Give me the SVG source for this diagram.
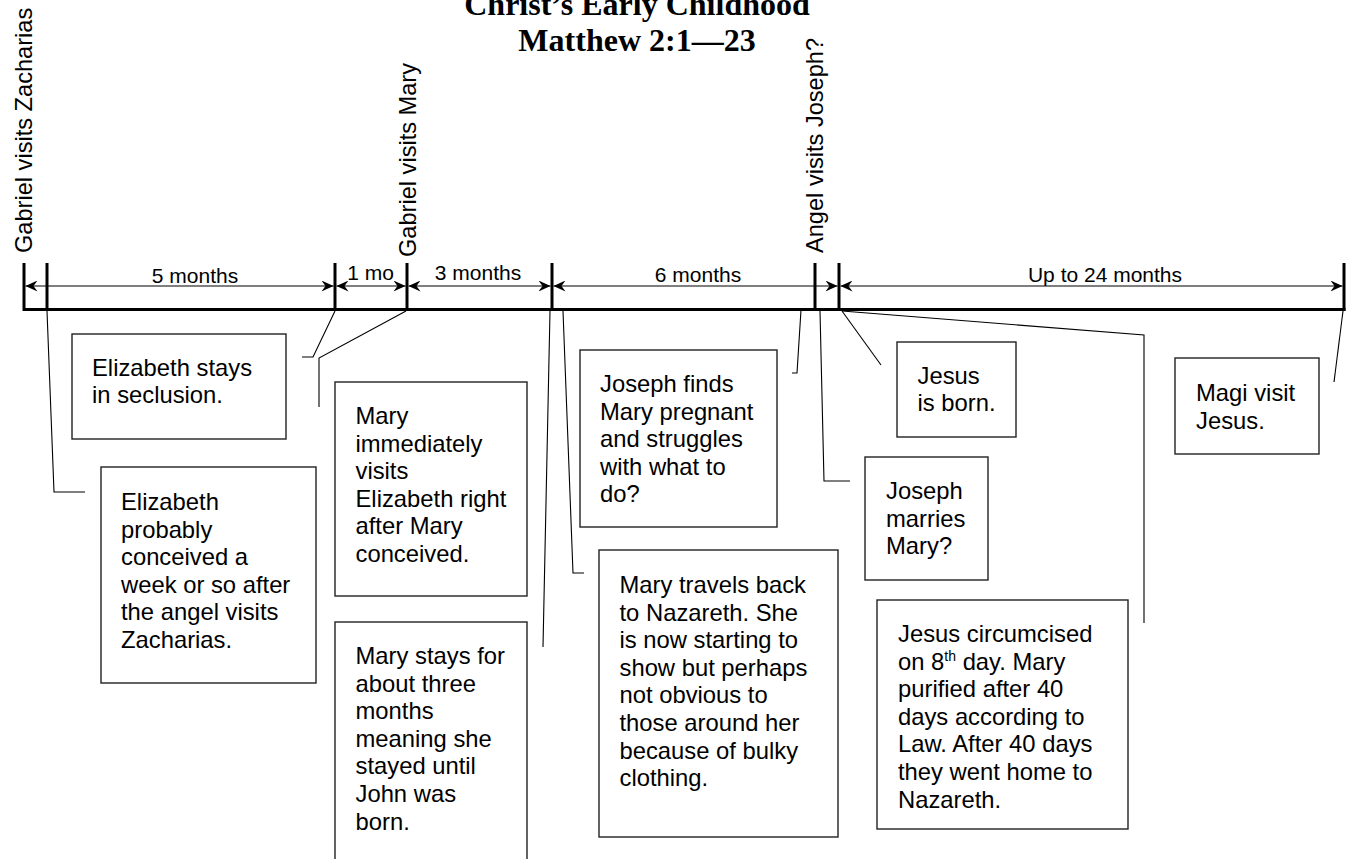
<svg xmlns="http://www.w3.org/2000/svg" width="1347" height="859" viewBox="0 0 1347 859">
<style>
.title{font-family:"Liberation Serif","Times New Roman",serif;font-weight:bold;font-size:32px;fill:#000;text-anchor:middle}
.lbl{font-family:"Liberation Sans",Arial,sans-serif;font-size:23.6px;fill:#000}
.dim{font-family:"Liberation Sans",Arial,sans-serif;font-size:21px;fill:#000;text-anchor:middle}
.txt{font-family:"Liberation Sans",Arial,sans-serif;font-size:23.8px;fill:#000}
.box{fill:#fff;stroke:#222;stroke-width:1.4}
.tick{stroke:#000;stroke-width:3;fill:none}
.dl{stroke:#000;stroke-width:1.1;fill:none}
.con{stroke:#000;stroke-width:1.1;fill:none}
</style>
<defs>
<marker id="arr" viewBox="0 0 12 11" refX="12" refY="5.5" markerWidth="12" markerHeight="11" markerUnits="userSpaceOnUse" orient="auto-start-reverse">
<path d="M12,5.5 L0,0 L4,5.5 L0,11 Z" fill="#000"/>
</marker>
</defs>
<rect width="1347" height="859" fill="#fff"/>
<g id="title">
<text class="title" x="637" y="15">Christ’s Early Childhood</text>
<text class="title" x="637" y="51">Matthew 2:1—23</text>
</g>
<g id="timeline">
<line class="tick" x1="23" y1="309.5" x2="1345.5" y2="309.5"/>
<line class="tick" x1="24" y1="263" x2="24" y2="311"/>
<line class="tick" x1="47" y1="263" x2="47" y2="311"/>
<line class="tick" x1="335" y1="263" x2="335" y2="311"/>
<line class="tick" x1="407" y1="263" x2="407" y2="311"/>
<line class="tick" x1="552" y1="263" x2="552" y2="311"/>
<line class="tick" x1="815" y1="263" x2="815" y2="311"/>
<line class="tick" x1="839" y1="263" x2="839" y2="311"/>
<line class="tick" x1="1344" y1="263" x2="1344" y2="311"/>
</g>
<g id="spans">
<line class="dl" x1="25.5" y1="286" x2="333.5" y2="286" marker-start="url(#arr)" marker-end="url(#arr)"/>
<line class="dl" x1="336.5" y1="286" x2="405.5" y2="286" marker-start="url(#arr)" marker-end="url(#arr)"/>
<line class="dl" x1="408.5" y1="286" x2="550.5" y2="286" marker-start="url(#arr)" marker-end="url(#arr)"/>
<line class="dl" x1="553.5" y1="286" x2="837.5" y2="286" marker-start="url(#arr)" marker-end="url(#arr)"/>
<line class="dl" x1="840.5" y1="286" x2="1342.5" y2="286" marker-start="url(#arr)" marker-end="url(#arr)"/>
<text class="dim" x="195" y="283">5 months</text>
<text class="dim" x="370.5" y="280">1 mo</text>
<text class="dim" x="478" y="280">3 months</text>
<text class="dim" x="698" y="282">6 months</text>
<text class="dim" x="1105" y="282">Up to 24 months</text>
</g>
<g id="event-labels">
<text class="lbl" transform="translate(31.5,253) rotate(-90)">Gabriel visits Zacharias</text>
<text class="lbl" transform="translate(415.5,257) rotate(-90)">Gabriel visits Mary</text>
<text class="lbl" transform="translate(823,253) rotate(-90)">Angel visits Joseph?</text>
</g>
<g id="connectors">
<polyline class="con" points="47,311 54,492 85,492"/>
<polyline class="con" points="335,311 313,357 302,357"/>
<polyline class="con" points="406,311 319,358 319,407"/>
<polyline class="con" points="550,311 543,647"/>
<polyline class="con" points="563,311 573,573 584,573"/>
<polyline class="con" points="801,310 797,373 792,373"/>
<polyline class="con" points="820,311 824,481 850,481"/>
<polyline class="con" points="842,311 881,365"/>
<polyline class="con" points="842,311 1144,335 1144,623"/>
<polyline class="con" points="1343,311 1334,382"/>
</g>
<g id="box-seclusion">
<rect class="box" x="72" y="334" width="214" height="105"/>
<text class="txt"><tspan x="92" y="376">Elizabeth stays</tspan><tspan x="92" y="403">in seclusion.</tspan></text>
</g>
<g id="box-conceived">
<rect class="box" x="101" y="467" width="215" height="216"/>
<text class="txt"><tspan x="121" y="510">Elizabeth</tspan><tspan x="121" y="537.6">probably</tspan><tspan x="121" y="565.2">conceived a</tspan><tspan x="121" y="592.8">week or so after</tspan><tspan x="121" y="620.4">the angel visits</tspan><tspan x="121" y="648">Zacharias.</tspan></text>
</g>
<g id="box-visits">
<rect class="box" x="335" y="382" width="192" height="214"/>
<text class="txt"><tspan x="355.5" y="424">Mary</tspan><tspan x="355.5" y="451.6">immediately</tspan><tspan x="355.5" y="479.2">visits</tspan><tspan x="355.5" y="506.8">Elizabeth right</tspan><tspan x="355.5" y="534.4">after Mary</tspan><tspan x="355.5" y="562">conceived.</tspan></text>
</g>
<g id="box-stays">
<rect class="box" x="335" y="622" width="192" height="260"/>
<text class="txt"><tspan x="355.5" y="664">Mary stays for</tspan><tspan x="355.5" y="691.6">about three</tspan><tspan x="355.5" y="719.2">months</tspan><tspan x="355.5" y="746.8">meaning she</tspan><tspan x="355.5" y="774.4">stayed until</tspan><tspan x="355.5" y="802">John was</tspan><tspan x="355.5" y="829.6">born.</tspan></text>
</g>
<g id="box-joseph-finds">
<rect class="box" x="580" y="350" width="197" height="177"/>
<text class="txt"><tspan x="600" y="392">Joseph finds</tspan><tspan x="600" y="419.6">Mary pregnant</tspan><tspan x="600" y="447.2">and struggles</tspan><tspan x="600" y="474.8">with what to</tspan><tspan x="600" y="502.4">do?</tspan></text>
</g>
<g id="box-travels">
<rect class="box" x="599" y="550" width="239" height="287"/>
<text class="txt"><tspan x="619.5" y="593">Mary travels back</tspan><tspan x="619.5" y="620.6">to Nazareth. She</tspan><tspan x="619.5" y="648.2">is now starting to</tspan><tspan x="619.5" y="675.8">show but perhaps</tspan><tspan x="619.5" y="703.4">not obvious to</tspan><tspan x="619.5" y="731">those around her</tspan><tspan x="619.5" y="758.6">because of bulky</tspan><tspan x="619.5" y="786.2">clothing.</tspan></text>
</g>
<g id="box-born">
<rect class="box" x="897" y="342" width="119" height="95"/>
<text class="txt"><tspan x="917.5" y="384">Jesus</tspan><tspan x="917.5" y="411">is born.</tspan></text>
</g>
<g id="box-marries">
<rect class="box" x="865" y="457" width="123" height="123"/>
<text class="txt"><tspan x="886" y="499">Joseph</tspan><tspan x="886" y="526.6">marries</tspan><tspan x="886" y="554.2">Mary?</tspan></text>
</g>
<g id="box-circumcised">
<rect class="box" x="877" y="600" width="251" height="229"/>
<text class="txt"><tspan x="898" y="642">Jesus circumcised</tspan><tspan x="898" y="669.6">on 8</tspan><tspan dy="-9" font-size="14">th</tspan><tspan dy="9"> day. Mary</tspan><tspan x="898" y="697.2">purified after 40</tspan><tspan x="898" y="724.8">days according to</tspan><tspan x="898" y="752.4">Law. After 40 days</tspan><tspan x="898" y="780">they went home to</tspan><tspan x="898" y="807.6">Nazareth.</tspan></text>
</g>
<g id="box-magi">
<rect class="box" x="1175" y="358" width="144" height="96"/>
<text class="txt"><tspan x="1196" y="401">Magi visit</tspan><tspan x="1196" y="428.6">Jesus.</tspan></text>
</g>
</svg>
